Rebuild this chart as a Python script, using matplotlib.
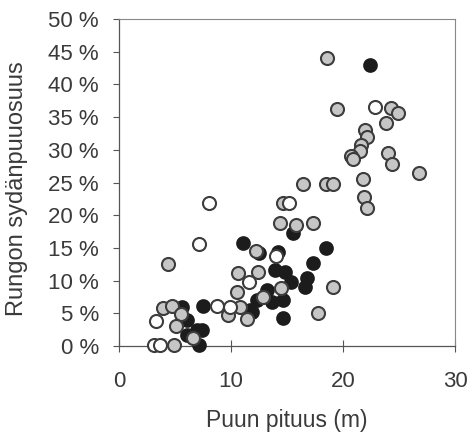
import numpy as np
import matplotlib.pyplot as plt
from matplotlib.ticker import FuncFormatter

plt.rcParams['font.family'] = ['Liberation Sans', 'DejaVu Sans']

# Puun pituus (m) ja rungon sydänpuuosuus (%) kolmelle ryhmälle
harmaa_x = [18.6, 19.5, 24.3, 24.9, 23.8, 22.0, 22.1, 21.6, 21.5, 20.7,
            20.9, 24.0, 24.4, 26.8, 21.8, 21.9, 22.1, 16.4, 18.5, 19.1,
            14.6, 14.4, 15.8, 17.3, 4.4, 12.2, 10.6, 12.4, 10.5, 14.5,
            12.9, 10.8, 9.7, 11.4, 17.8, 19.1, 3.9, 4.7, 5.5, 5.1,
            6.6, 4.9]
harmaa_y = [44.0, 36.2, 36.4, 35.6, 34.1, 33.0, 32.0, 30.7, 29.8, 29.1,
            28.6, 29.5, 27.8, 26.5, 25.5, 22.8, 21.1, 24.8, 24.8, 24.8,
            21.9, 18.8, 18.5, 18.8, 12.5, 14.5, 11.2, 11.3, 8.3, 8.9,
            7.5, 6.0, 4.7, 4.1, 5.0, 9.0, 5.8, 6.1, 4.9, 3.1,
            1.2, 0.2]

valk_x = [22.9, 15.2, 8.0, 7.1, 14.0, 11.6, 8.75, 9.9, 3.3, 3.1, 3.7]
valk_y = [36.5, 21.9, 21.9, 15.6, 13.8, 9.8, 6.1, 6.0, 3.8, 0.2, 0.2]

musta_x = [22.4, 11.1, 18.5, 15.5, 12.5, 14.2, 17.3, 13.9, 14.8, 15.4,
           16.8, 16.6, 13.2, 12.3, 14.6, 13.7, 11.7, 11.9, 14.6, 7.5,
           5.6, 6.1, 7.0, 7.4, 6.1, 6.5, 7.1]
musta_y = [43.0, 15.7, 15.0, 17.3, 14.2, 14.4, 12.7, 11.6, 11.3, 9.8,
           10.4, 9.0, 8.6, 7.0, 7.0, 6.7, 5.5, 5.2, 4.3, 6.1,
           6.0, 4.0, 2.4, 2.4, 1.7, 1.4, 0.2]

fig = plt.figure(figsize=(4.71, 4.33), dpi=100)
ax = fig.add_axes([0.2527, 0.201, 0.7133, 0.755])

koko = 88
ax.scatter(musta_x, musta_y, s=koko, c='#1c1c1c', edgecolors='#1c1c1c',
           linewidths=1.2, zorder=3, clip_on=False)
ax.scatter(harmaa_x, harmaa_y, s=koko, c='#c6c6c6', edgecolors='#3c3c3c',
           linewidths=1.5, zorder=4, clip_on=False)
ax.scatter(valk_x, valk_y, s=koko, c='white', edgecolors='#3c3c3c',
           linewidths=1.5, zorder=5, clip_on=False)

ax.set_xlim(0, 30)
ax.set_ylim(0, 50)
ax.set_xticks([0, 10, 20, 30])
ax.set_yticks(np.arange(0, 51, 5))
ax.yaxis.set_major_formatter(FuncFormatter(lambda v, p: f'{v:.0f} %'))

teksti = '#3a3a3a'
ax.tick_params(axis='y', direction='out', length=4.5, width=0.8,
               pad=10, labelsize=16, colors='#555555', labelcolor=teksti)
ax.tick_params(axis='x', direction='inout', length=8, width=0.8,
               pad=14, labelsize=16, colors='#555555', labelcolor=teksti)

for s in ['left', 'bottom']:
    ax.spines[s].set_color('#555555')
    ax.spines[s].set_linewidth(0.9)
for s in ['top', 'right']:
    ax.spines[s].set_color('#888888')
    ax.spines[s].set_linewidth(0.8)
    ax.spines[s].set_linestyle((0, (1, 1)))

ax.set_xlabel('Puun pituus (m)', fontsize=16.5, color=teksti, labelpad=12)
ax.set_ylabel('Rungon sydänpuuosuus', fontsize=17, color=teksti)
ax.yaxis.set_label_coords(-0.272, 0.48)

fig.savefig('out.png', dpi=100)
